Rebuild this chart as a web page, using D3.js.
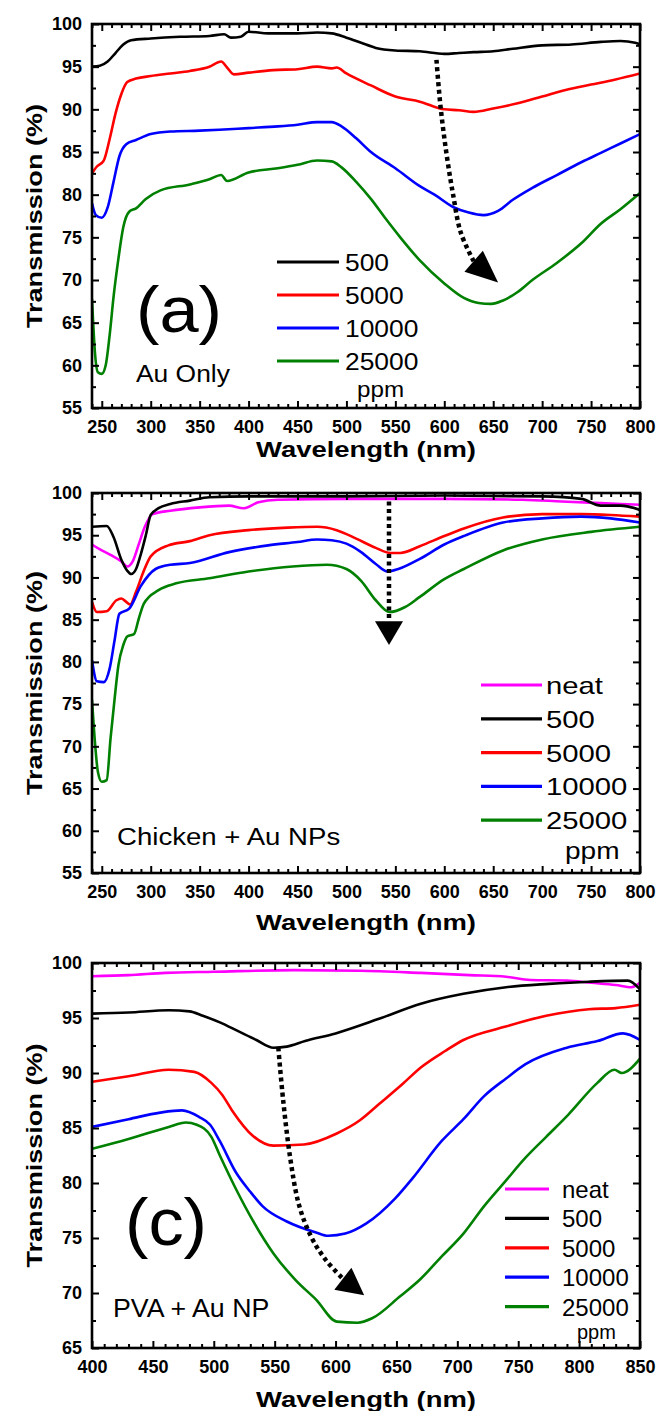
<!DOCTYPE html>
<html>
<head>
<meta charset="utf-8">
<script src="https://cdn.jsdelivr.net/npm/d3@7"></script>
<style>
  body { margin: 0; background: #fff; }
  text { font-family: "Liberation Sans", Arial, sans-serif; fill: #000; }
</style>
</head>
<body>
<svg id="chart"></svg>
<script>
// ---- data ----
// panel (a) Au only
var a500   = [[240,95.0],[248,95.1],[256,95.6],[264,96.6],[272,97.6],[280,98.1],[300,98.3],[330,98.5],[360,98.6],[375,98.8],[382,98.4],[392,98.5],[400,99.1],[420,98.9],[450,98.9],[470,99.0],[485,98.9],[500,98.4],[515,97.8],[530,97.2],[550,96.9],[575,96.8],[600,96.5],[615,96.6],[630,96.7],[650,96.8],[670,97.1],[700,97.5],[730,97.6],[760,97.9],[780,98.0],[795,97.8],[800,97.6]];
var a5000  = [[240,82.5],[245,83.3],[252,84.0],[258,86.5],[264,89.5],[270,91.8],[276,93.2],[285,93.6],[300,93.9],[320,94.2],[340,94.5],[360,95.0],[372,95.6],[378,94.9],[385,94.1],[400,94.3],[425,94.6],[450,94.7],[470,95.0],[485,94.8],[490,94.9],[500,94.2],[525,92.8],[550,91.5],[575,90.9],[600,90.0],[615,89.9],[630,89.7],[650,90.1],[675,90.7],[700,91.5],[725,92.3],[750,92.9],[775,93.5],[800,94.2]];
var a10000 = [[240,79.0],[244,77.6],[250,77.3],[256,78.5],[262,81.5],[268,84.5],[275,85.9],[285,86.4],[300,87.1],[320,87.4],[350,87.5],[370,87.6],[400,87.8],[430,88.0],[450,88.2],[470,88.5],[485,88.5],[495,88.0],[510,86.6],[525,85.0],[550,83.1],[575,81.0],[590,80.0],[610,78.5],[625,77.9],[640,77.6],[655,78.1],[670,79.4],[690,80.8],[715,82.3],[740,83.8],[760,84.9],[780,86.0],[800,87.1]];
var a25000 = [[240,67.8],[243,61.5],[246,59.2],[250,59.0],[254,60.0],[258,63.5],[262,68.0],[267,72.5],[272,76.2],[278,78.0],[285,78.4],[295,79.5],[310,80.5],[340,81.2],[360,81.8],[372,82.3],[378,81.6],[400,82.6],[430,83.1],[450,83.5],[470,84.0],[485,83.9],[495,83.2],[510,81.5],[525,79.5],[540,77.2],[555,75.0],[575,72.3],[600,69.6],[620,67.9],[635,67.3],[648,67.2],[660,67.6],[675,68.6],[690,70.0],[715,72.0],[740,74.3],[760,76.6],[780,78.3],[800,80.2]];

// panel (b) chicken + Au NPs
var bNeat  = [[240,93.9],[250,93.2],[260,92.6],[270,91.9],[276,91.3],[282,92.0],[288,94.0],[294,96.0],[302,97.5],[320,97.9],[350,98.3],[380,98.5],[395,98.2],[410,98.9],[430,99.2],[500,99.3],[600,99.3],[680,99.2],[720,99.0],[760,98.8],[800,98.6]];
var b500   = [[240,96.0],[255,96.1],[262,94.8],[270,92.1],[276,90.8],[280,90.4],[285,91.0],[290,92.8],[295,95.0],[300,97.4],[308,98.2],[320,98.7],[340,99.1],[360,99.5],[400,99.6],[500,99.6],[600,99.7],[700,99.6],[740,99.3],[760,98.5],[780,98.5],[800,98.0]];
var b5000  = [[240,87.1],[245,85.9],[255,86.0],[265,87.3],[270,87.5],[274,87.2],[279,86.8],[285,88.3],[292,90.5],[300,92.5],[318,93.8],[340,94.3],[360,95.0],[400,95.6],[440,95.9],[470,96.0],[490,95.6],[510,94.6],[530,93.5],[545,92.9],[555,92.9],[575,93.7],[600,94.9],[620,95.8],[660,97.1],[700,97.5],[740,97.5],[770,97.4],[800,97.2]];
var b10000 = [[240,80.2],[245,77.7],[252,77.6],[258,79.2],[263,82.5],[268,85.7],[278,86.3],[290,89.0],[305,91.0],[320,91.5],[340,91.7],[380,93.0],[420,93.8],[450,94.2],[470,94.5],[485,94.4],[500,94.0],[515,93.0],[530,91.6],[542,90.7],[553,91.0],[575,92.2],[600,93.9],[620,94.9],[660,96.5],[700,97.0],[740,97.2],[770,97.0],[800,96.5]];
var b25000 = [[240,75.5],[243,70.5],[246,67.0],[250,65.8],[255,66.0],[259,71.0],[263,75.5],[267,79.6],[272,82.0],[276,83.0],[283,83.3],[288,85.2],[293,86.9],[308,88.5],[326,89.3],[360,89.9],[400,90.7],[445,91.3],[480,91.5],[500,91.0],[515,89.6],[530,87.3],[544,85.9],[560,86.5],[575,87.7],[600,89.8],[620,91.0],[660,93.2],[700,94.5],[750,95.4],[800,96.0]];

// panel (c) PVA + Au NP
var cNeat  = [[400,98.8],[430,98.9],[460,99.1],[500,99.2],[566,99.35],[620,99.3],[670,99.1],[710,98.9],[740,98.75],[760,98.45],[790,98.4],[810,98.2],[830,98.0],[843,97.8],[850,98.2]];
var c500   = [[400,95.4],[430,95.5],[463,95.7],[480,95.6],[491,95.2],[505,94.6],[520,93.8],[535,93.0],[549,92.3],[560,92.4],[575,92.9],[600,93.6],[635,94.9],[670,96.3],[705,97.2],[740,97.8],[775,98.1],[808,98.3],[840,98.4],[850,97.6]];
var c5000  = [[400,89.2],[430,89.7],[463,90.3],[484,90.1],[498,89.1],[507,88.0],[515,86.6],[532,84.3],[549,83.4],[574,83.5],[601,84.5],[620,85.7],[636,87.2],[655,89.0],[670,90.5],[690,92.0],[705,93.0],[739,94.2],[773,95.2],[808,95.8],[830,95.9],[850,96.2]];
var c10000 = [[400,85.1],[430,85.8],[456,86.4],[474,86.6],[488,86.0],[497,85.3],[505,83.8],[518,81.0],[530,79.2],[540,77.9],[560,76.5],[584,75.5],[594,75.2],[608,75.4],[625,76.3],[649,78.6],[663,80.4],[687,83.8],[705,85.8],[722,87.9],[740,89.5],[756,90.8],[790,92.3],[815,92.9],[836,93.6],[850,93.0]];
var c25000 = [[400,83.1],[430,84.0],[463,85.1],[477,85.5],[486,85.3],[498,84.2],[505,82.5],[518,79.5],[532,76.6],[549,73.6],[567,71.2],[584,69.4],[601,67.4],[618,67.3],[630,67.7],[653,69.7],[670,71.3],[687,73.3],[705,75.4],[722,77.9],[739,80.1],[756,82.3],[773,84.2],[791,86.2],[815,89.1],[829,90.3],[835,90.0],[850,91.3]];

// dotted arrows (wavelength, transmission); last entry is the head tip
var aArrow = [[592,95.8],[596,90.5],[602,85],[609,80],[617,75.5],[630,72.2],[655,69.7]];
var bArrow = [[543.5,99.0],[543.5,84.8],[543.5,82.0]];
var cArrow = [[553,92.3],[557,87.5],[563,82.1],[570,78],[580,75.1],[592,73],[606,71.3],[623.5,69.8]];

// ticks
var abXTicks = [250,300,350,400,450,500,550,600,650,700,750,800];
var cXTicks  = [400,450,500,550,600,650,700,750,800,850];
var abYTicks = [55,60,65,70,75,80,85,90,95,100];
var cYTicks  = [65,70,75,80,85,90,95,100];

// legend
var legendA = ["500","5000","10000","25000"];
var legendBC = ["neat","500","5000","10000","25000"];
var colors = { "neat": "#ff00ff", "500": "#000000", "5000": "#ff0000", "10000": "#0000ff", "25000": "#008000" };

var width = 656, height = 1411;
var left = 92, right = 640;

var svg = d3.select("#chart").attr("width", width).attr("height", height);
svg.append("rect").attr("width", width).attr("height", height).attr("fill", "#fff");

function stretched(g, x, y, txt, size, sx) {
  return g.append("text")
    .attr("transform", "translate(" + x + "," + y + ") scale(" + sx + ",1)")
    .style("font-size", size + "px")
    .text(txt);
}

function panel(p) {
  var g = svg.append("g");
  var x = d3.scaleLinear().domain(p.xDomain).range([left, right]);
  var y = d3.scaleLinear().domain(p.yDomain).range([p.bottom, p.top]);

  var xMinor = d3.range(p.xDomain[0], p.xDomain[1] + 1, 10).filter(d => p.xTicks.indexOf(d) < 0);
  var yMinor = p.yTicks.slice(0, -1).map(d => d + 2.5);

  // clipped curves
  g.append("clipPath").attr("id", p.id)
    .append("rect").attr("x", left).attr("y", p.top).attr("width", right - left).attr("height", p.bottom - p.top);

  var line = d3.line().x(d => x(d[0])).y(d => y(d[1])).curve(d3.curveMonotoneX);
  g.append("g").attr("clip-path", "url(#" + p.id + ")")
    .selectAll("path")
    .data(p.series)
    .enter()
    .append("path")
      .attr("d", d => line(d.values))
      .attr("fill", "none")
      .attr("stroke", d => colors[d.name])
      .attr("stroke-width", 2.6)
      .attr("stroke-linejoin", "round");

  // inward ticks on all four sides
  function ax(axis, tx, ty, ticks, size, labels, pad) {
    var a = g.append("g").attr("transform", "translate(" + tx + "," + ty + ")")
      .call(axis.tickValues(ticks).tickSize(-size).tickPadding(pad || 0)
        .tickFormat(labels ? d3.format("d") : ""));
    a.attr("font-size", null).attr("font-family", null);
    a.select(".domain").remove();
    a.selectAll("line").attr("stroke", "#000").attr("stroke-width", 2);
    a.selectAll("text").style("font-size", "18px").style("font-weight", "bold");
    return a;
  }
  ax(d3.axisBottom(x), 0, p.bottom, p.xTicks, 7, true, 12);
  ax(d3.axisBottom(x), 0, p.bottom, xMinor, 4, false);
  ax(d3.axisTop(x), 0, p.top, p.xTicks, 7, false);
  ax(d3.axisTop(x), 0, p.top, xMinor, 4, false);
  ax(d3.axisLeft(y), left, 0, p.yTicks, 7, true, 10);
  ax(d3.axisLeft(y), left, 0, yMinor, 4, false);
  ax(d3.axisRight(y), right, 0, p.yTicks, 7, false);
  ax(d3.axisRight(y), right, 0, yMinor, 4, false);

  g.append("rect")
    .attr("x", left).attr("y", p.top)
    .attr("width", right - left).attr("height", p.bottom - p.top)
    .attr("fill", "none").attr("stroke", "#000").attr("stroke-width", 2.6);

  // axis titles
  g.append("text")
    .attr("x", (left + right) / 2).attr("y", p.xTitleY)
    .attr("text-anchor", "middle")
    .attr("textLength", 220).attr("lengthAdjust", "spacingAndGlyphs")
    .style("font-size", "22px").style("font-weight", "bold")
    .text("Wavelength (nm)");
  g.append("text")
    .attr("transform", "translate(42," + (p.top + p.bottom) / 2 + ") rotate(-90)")
    .attr("text-anchor", "middle")
    .attr("textLength", 224).attr("lengthAdjust", "spacingAndGlyphs")
    .style("font-size", "22px").style("font-weight", "bold")
    .text("Transmission (%)");

  // dotted arrow
  var pts = p.arrow.slice(0, -1), tip = p.arrow[p.arrow.length - 1];
  g.append("path")
    .attr("d", d3.line().x(d => x(d[0])).y(d => y(d[1])).curve(d3.curveCatmullRom)(pts))
    .attr("fill", "none").attr("stroke", "#000")
    .attr("stroke-width", 4.5).attr("stroke-dasharray", "4 3.5");
  var b = pts[pts.length - 1];
  var bx = x(b[0]), by = y(b[1]), tx = x(tip[0]), ty = y(tip[1]);
  var L = Math.hypot(tx - bx, ty - by), nx = -(ty - by) / L * 14, ny = (tx - bx) / L * 14;
  g.append("path")
    .attr("d", "M" + tx + "," + ty + "L" + (bx + nx) + "," + (by + ny) + "L" + (bx - nx) + "," + (by - ny) + "Z")
    .attr("fill", "#000");

  // legend
  var lg = p.legend;
  lg.names.forEach(function(n, i) {
    var ly = lg.y + i * lg.step;
    g.append("line")
      .attr("x1", lg.x1).attr("x2", lg.x2).attr("y1", ly).attr("y2", ly)
      .attr("stroke", colors[n]).attr("stroke-width", 3.2);
    stretched(g, lg.tx, ly + 9, n, lg.size, lg.sx);
  });
  stretched(g, lg.ppmX, lg.ppmY, "ppm", lg.ppmSize, lg.sx);

  p.notes.forEach(function(t) { stretched(g, t.x, t.y, t.text, t.size, t.sx); });
}

panel({
  id: "clipA", xDomain: [240, 800], yDomain: [55, 100], top: 24, bottom: 408,
  xTicks: abXTicks, yTicks: abYTicks, xTitleY: 457,
  series: [{name: "500", values: a500}, {name: "5000", values: a5000}, {name: "10000", values: a10000}, {name: "25000", values: a25000}],
  arrow: aArrow,
  legend: {names: legendA, x1: 277, x2: 339, tx: 345, y: 262, step: 33, size: 24, sx: 1.1, ppmX: 357, ppmY: 397, ppmSize: 22},
  notes: [{text: "(a)", x: 136, y: 332, size: 64, sx: 1.1}, {text: "Au Only", x: 136, y: 382, size: 24, sx: 1.1}]
});

panel({
  id: "clipB", xDomain: [240, 800], yDomain: [55, 100], top: 493, bottom: 873,
  xTicks: abXTicks, yTicks: abYTicks, xTitleY: 930,
  series: [{name: "neat", values: bNeat}, {name: "500", values: b500}, {name: "5000", values: b5000}, {name: "10000", values: b10000}, {name: "25000", values: b25000}],
  arrow: bArrow,
  legend: {names: legendBC, x1: 481, x2: 542, tx: 546, y: 685, step: 33.8, size: 24, sx: 1.22, ppmX: 565, ppmY: 859, ppmSize: 23},
  notes: [{text: "Chicken + Au NPs", x: 117, y: 845, size: 24, sx: 1.15}]
});

panel({
  id: "clipC", xDomain: [400, 850], yDomain: [65, 100], top: 963, bottom: 1348,
  xTicks: cXTicks, yTicks: cYTicks, xTitleY: 1407,
  series: [{name: "neat", values: cNeat}, {name: "500", values: c500}, {name: "5000", values: c5000}, {name: "10000", values: c10000}, {name: "25000", values: c25000}],
  arrow: cArrow,
  legend: {names: legendBC, x1: 505, x2: 549, tx: 562, y: 1189, step: 29.4, size: 24, sx: 1.0, ppmX: 577, ppmY: 1339, ppmSize: 20},
  notes: [{text: "(c)", x: 125, y: 1245, size: 67, sx: 1.05}, {text: "PVA + Au NP", x: 113, y: 1317, size: 25, sx: 1.07}]
});
</script>
</body>
</html>
